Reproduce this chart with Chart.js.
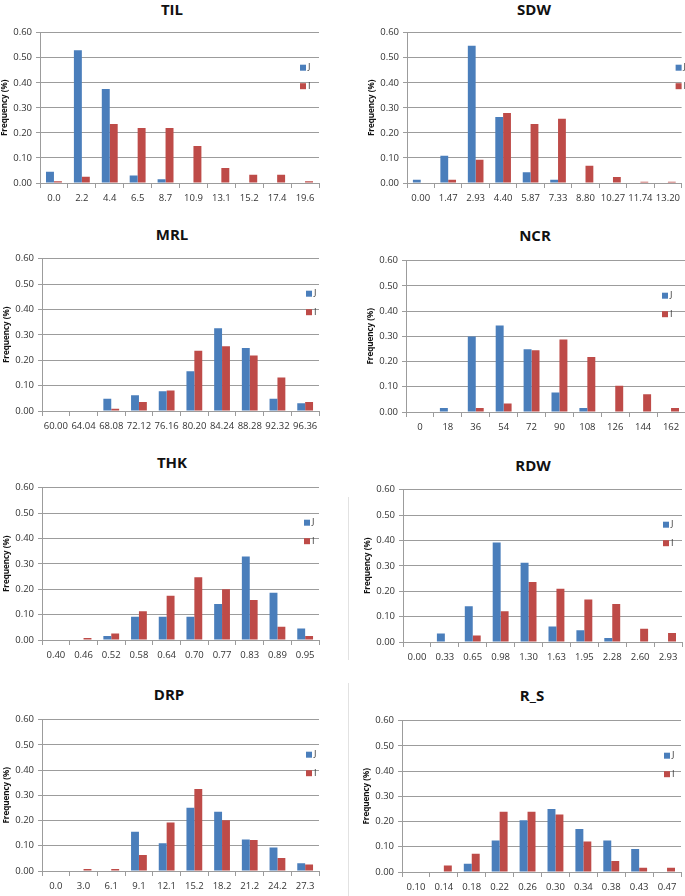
<!DOCTYPE html>
<html>
<head>
<meta charset="utf-8">
<script src="https://cdn.jsdelivr.net/npm/chart.js@4.4.0/dist/chart.umd.min.js"></script>
<style>
html, body { margin: 0; padding: 0; background: #fff; overflow: hidden; }
body { width: 685px; height: 896px; position: relative; }
.panel { position: absolute; }
.title { position: absolute; font: bold 15px "Open Sans", sans-serif; color: #111;
         transform: translate(-50%, -50%); white-space: nowrap; }
.edge { position: absolute; width: 1px; background: #e2e2e2; }
</style>
</head>
<body>
<div class="edge" style="left:348px;top:497px;height:163px"></div>
<div class="edge" style="left:348px;top:683px;height:213px"></div>
<script>
// values (frequency per bin)
const tilLabels = ['0.0', '2.2', '4.4', '6.5', '8.7', '10.9', '13.1', '15.2', '17.4', '19.6'];
const tilJ = [0.045, 0.53, 0.375, 0.03, 0.015, 0, 0, 0, 0, 0];
const tilI = [0.007, 0.025, 0.236, 0.22, 0.22, 0.148, 0.06, 0.033, 0.033, 0.007];

const sdwLabels = ['0.00', '1.47', '2.93', '4.40', '5.87', '7.33', '8.80', '10.27', '11.74', '13.20'];
const sdwJ = [0.013, 0.109, 0.548, 0.263, 0.043, 0.013, 0, 0, 0, 0];
const sdwI = [0, 0.013, 0.093, 0.279, 0.236, 0.256, 0.069, 0.024, 0.005, 0.005];

const mrlLabels = ['60.00', '64.04', '68.08', '72.12', '76.16', '80.20', '84.24', '88.28', '92.32', '96.36'];
const mrlJ = [0, 0, 0.048, 0.062, 0.078, 0.157, 0.326, 0.248, 0.048, 0.031];
const mrlI = [0, 0, 0.009, 0.035, 0.081, 0.237, 0.255, 0.219, 0.132, 0.035];

const ncrLabels = ['0', '18', '36', '54', '72', '90', '108', '126', '144', '162'];
const ncrJ = [0, 0.016, 0.299, 0.343, 0.249, 0.077, 0.016, 0, 0, 0];
const ncrI = [0, 0, 0.016, 0.034, 0.245, 0.288, 0.218, 0.104, 0.07, 0.016];

const thkLabels = ['0.40', '0.46', '0.52', '0.58', '0.64', '0.70', '0.77', '0.83', '0.89', '0.95'];
const thkJ = [0, 0, 0.016, 0.092, 0.092, 0.092, 0.142, 0.329, 0.186, 0.045];
const thkI = [0, 0.008, 0.026, 0.113, 0.174, 0.247, 0.2, 0.158, 0.052, 0.016];

const rdwLabels = ['0.00', '0.33', '0.65', '0.98', '1.30', '1.63', '1.95', '2.28', '2.60', '2.93'];
const rdwJ = [0, 0.033, 0.141, 0.392, 0.312, 0.061, 0.046, 0.016, 0, 0];
const rdwI = [0, 0, 0.026, 0.121, 0.236, 0.21, 0.167, 0.15, 0.052, 0.035];

const drpLabels = ['0.0', '3.0', '6.1', '9.1', '12.1', '15.2', '18.2', '21.2', '24.2', '27.3'];
const drpJ = [0, 0, 0, 0.156, 0.11, 0.251, 0.235, 0.125, 0.093, 0.031];
const drpI = [0, 0.008, 0.008, 0.063, 0.192, 0.325, 0.201, 0.123, 0.052, 0.026];

const rsLabels = ['0.10', '0.14', '0.18', '0.22', '0.26', '0.30', '0.34', '0.38', '0.43', '0.47'];
const rsJ = [0, 0, 0.033, 0.125, 0.205, 0.25, 0.171, 0.125, 0.091, 0];
const rsI = [0, 0.026, 0.072, 0.239, 0.239, 0.228, 0.121, 0.044, 0.017, 0.017];

const seriesNames = ['J', 'I'];
const yTicks = [0, 0.1, 0.2, 0.3, 0.4, 0.5, 0.6];

// panel layout: plot area [left, top, right, bottom], title centre, legend x
const panels = [
  { title: 'TIL', labels: tilLabels, j: tilJ, i: tilI, area: [40, 31, 319, 183], t: [172, 9], lx: 300 },
  { title: 'SDW', labels: sdwLabels, j: sdwJ, i: sdwI, area: [407, 31, 685, 183], t: [534, 9], lx: 679 },
  { title: 'MRL', labels: mrlLabels, j: mrlJ, i: mrlI, area: [42, 257, 319, 411], t: [172, 234], lx: 306 },
  { title: 'NCR', labels: ncrLabels, j: ncrJ, i: ncrI, area: [406, 259, 685, 412], t: [535, 235], lx: 662 },
  { title: 'THK', labels: thkLabels, j: thkJ, i: thkI, area: [42, 486, 319, 640], t: [172, 462], lx: 304 },
  { title: 'RDW', labels: rdwLabels, j: rdwJ, i: rdwI, area: [403, 488, 682, 642], t: [533, 465], lx: 663 },
  { title: 'DRP', labels: drpLabels, j: drpJ, i: drpI, area: [42, 718, 319, 871], t: [169, 694], lx: 306 },
  { title: 'R_S', labels: rsLabels, j: rsJ, i: rsI, area: [402, 719, 681, 872], t: [532, 695], lx: 664 }
];

const BLUE = '#4a7ebb';
const RED = '#be4b48';
const GRID = '#9c9c9c';
const FONT = '"Open Sans", sans-serif';

// small legend drawn inside the plot, near its right edge
const cornerLegend = {
  id: 'cornerLegend',
  afterDraw(chart, args, opts) {
    const ctx = chart.ctx, a = chart.chartArea;
    ctx.save();
    ctx.font = '9px ' + FONT;
    ctx.textBaseline = 'middle';
    chart.data.datasets.forEach((ds, k) => {
      const x = a.right + opts.dx;
      const y = a.top + 35 + k * 18.5;
      ctx.fillStyle = ds.backgroundColor;
      ctx.fillRect(x, y - 3, 6, 6);
      ctx.fillStyle = '#333';
      ctx.fillText(ds.label, x + 8, y);
    });
    ctx.restore();
  }
};

panels.forEach(p => {
  const [l, t, r, b] = p.area;
  const padR = Math.min(12, 685 - r);
  const left = l - 40, top = t - 8;
  const w = r - left + padR, h = (b - t) + 8 + 24;

  const div = document.createElement('div');
  div.className = 'panel';
  div.style.left = left + 'px';
  div.style.top = top + 'px';
  const canvas = document.createElement('canvas');
  canvas.width = w;
  canvas.height = h;
  div.appendChild(canvas);
  document.body.appendChild(div);

  const title = document.createElement('div');
  title.className = 'title';
  title.textContent = p.title;
  title.style.left = p.t[0] + 'px';
  title.style.top = p.t[1] + 'px';
  document.body.appendChild(title);

  new Chart(canvas.getContext('2d'), {
    type: 'bar',
    data: {
      labels: p.labels,
      datasets: [
        { label: seriesNames[0], data: p.j, backgroundColor: BLUE },
        { label: seriesNames[1], data: p.i, backgroundColor: RED }
      ]
    },
    options: {
      responsive: false,
      animation: false,
      datasets: { bar: { categoryPercentage: 0.57, barPercentage: 1.0, borderWidth: 0 } },
      layout: { autoPadding: false, padding: { left: 0, top: 8, right: padR, bottom: 0 } },
      plugins: {
        legend: { display: false },
        tooltip: { enabled: false },
        cornerLegend: { dx: p.lx - r }
      },
      scales: {
        x: {
          afterFit: s => { s.height = 24; },
          grid: { display: true, offset: true, drawOnChartArea: false, drawTicks: true, tickLength: 5, color: GRID },
          border: { display: true, color: GRID },
          ticks: { autoSkip: false, maxRotation: 0, minRotation: 0, padding: 5, color: '#333',
                   font: { family: FONT, size: 9.5 } }
        },
        y: {
          min: 0,
          max: 0.6,
          afterFit: s => { s.width = 40; },
          afterBuildTicks: s => { s.ticks = yTicks.map(v => ({ value: v })); },
          grid: { color: GRID, tickLength: 4 },
          border: { display: true, color: GRID },
          ticks: { padding: 4, color: '#333', font: { family: FONT, size: 9.5 },
                   callback: v => v.toFixed(2) },
          title: { display: true, text: 'Frequency (%)', color: '#111',
                   font: { family: FONT, size: 8, weight: 'bold' }, padding: { top: 0, bottom: 0 } }
        }
      }
    },
    plugins: [cornerLegend]
  });
});
</script>
</body>
</html>
